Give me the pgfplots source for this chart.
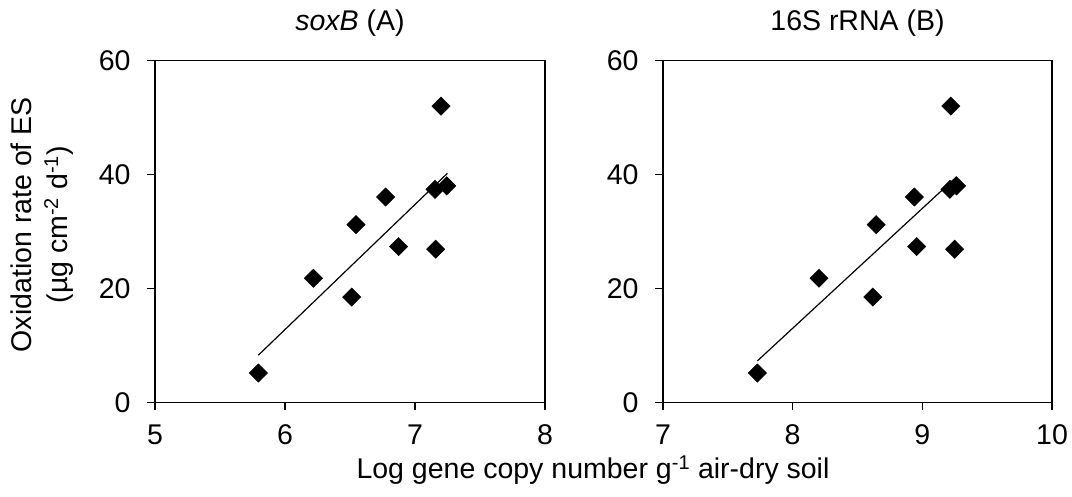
\documentclass[border=0pt]{standalone}
\usepackage{fontspec}
\setmainfont{Liberation Sans}
\usepackage{pgfplots}
\pgfplotsset{compat=1.18}
\pgfplotsset{
  myax/.style={
    scale only axis,
    ymin=0, ymax=60, ytick={0,20,40,60},
    tick align=outside, tick pos=left,
    major tick length=8pt,
    axis line style={line width=1.5pt},
    every tick/.style={black, line width=1.4pt},
    font=\fontsize{28.5}{33}\selectfont,
    /pgf/number format/assume math mode=true,
    xticklabel style={yshift=-11pt},
    yticklabel style={xshift=-13pt},
    title style={at={(0.5,1)}, anchor=base, yshift=24pt},
    clip=false,
  },
  dots/.style={only marks, mark=square*, mark size=6.5pt,
    mark options={rotate=45, fill=black, draw=black, line width=0.4pt}},
}
\begin{document}
\begin{tikzpicture}[x=1pt,y=1pt]
\useasboundingbox (0,0) rectangle (1072,497);
\begin{axis}[myax,
  at={(155pt,94.5pt)}, anchor=south west,
  width=390pt, height=342pt,
  xmin=5, xmax=8, xtick={5,6,7,8},
  title={\textit{soxB} (A)},
  ylabel={Oxidation rate of ES\\(µg cm\textsuperscript{-2} d\textsuperscript{-1})},
  ylabel style={at={(axis description cs:-0.29,0.52)}, anchor=center, align=center,
    font=\fontsize{28.5}{36}\selectfont},
]
\addplot[black, line width=1.2pt] coordinates {(5.795,8.3) (7.249,40.2)};
\addplot[dots] coordinates {
(5.795,5.17) (6.218,21.8) (6.513,18.5) (6.546,31.2) (6.774,36.05)
(6.874,27.35) (7.159,26.9) (7.154,37.4) (7.200,52.0) (7.244,38.0)};
\end{axis}
\begin{axis}[myax,
  at={(663pt,94.5pt)}, anchor=south west,
  width=389pt, height=342pt,
  xmin=7, xmax=10, xtick={7,8,9,10},
  title={16S rRNA (B)},
]
\addplot[black, line width=1.2pt] coordinates {(7.728,7.3) (9.264,39.6)};
\addplot[dots] coordinates {
(7.728,5.17) (8.203,21.8) (8.618,18.5) (8.644,31.2) (8.938,36.05)
(8.956,27.35) (9.249,26.9) (9.213,37.4) (9.220,52.0) (9.264,38.0)};
\end{axis}
\node[anchor=base, font=\fontsize{28.5}{33}\selectfont] at (593,18) {Log gene copy number g\textsuperscript{-1} air-dry soil};
\end{tikzpicture}
\end{document}
